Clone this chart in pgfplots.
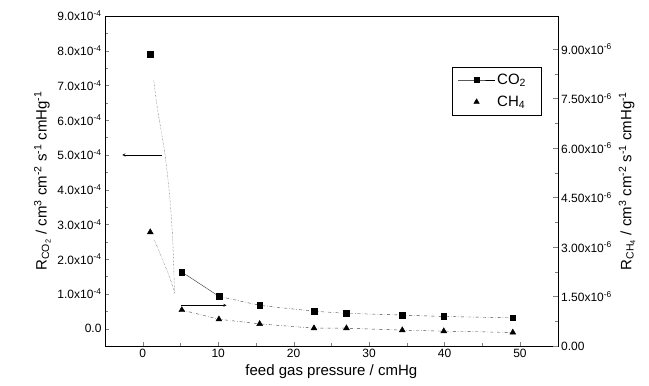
\documentclass[border=0pt]{standalone}
\usepackage{fontspec}
\setmainfont{Liberation Sans}
\usepackage{pgfplots}
\pgfplotsset{compat=1.18}

\begin{document}
\begin{tikzpicture}
\begin{axis}[name=main, scale only axis, width=452.7bp, height=330bp,
  xmin=-5, xmax=55, ymin=-0.5e-4, ymax=9e-4,
  xtick={0,10,20,30,40,50}, xticklabels={0,10,20,30,40,50}, minor x tick num=1,
  ytick={0,1e-4,2e-4,3e-4,4e-4,5e-4,6e-4,7e-4,8e-4,9e-4},
  yticklabels={0.0,1.0x10\textsuperscript{-4},2.0x10\textsuperscript{-4},3.0x10\textsuperscript{-4},4.0x10\textsuperscript{-4},5.0x10\textsuperscript{-4},6.0x10\textsuperscript{-4},7.0x10\textsuperscript{-4},8.0x10\textsuperscript{-4},9.0x10\textsuperscript{-4}},
  minor y tick num=1,
  xtick pos=bottom, ytick pos=left, tick align=inside,
  scaled y ticks=false,
  tick label style={font=\fontsize{12bp}{14bp}\selectfont},
  label style={font=\fontsize{15bp}{18bp}\selectfont},
  xlabel={feed gas pressure / cmHg},
  ylabel={R\textsubscript{CO\textsubscript{2}} / cm\textsuperscript{3} cm\textsuperscript{-2} s\textsuperscript{-1} cmHg\textsuperscript{-1}},
  legend style={at={(0.766,0.846)}, anchor=north west, draw=black, thin,
    font=\fontsize{15bp}{18bp}\selectfont, cells={anchor=west}, row sep=6bp,
    inner xsep=6bp, inner ysep=5bp},
  legend image code/.code={\draw[mark repeat=2,mark phase=2,#1] plot coordinates {(0cm,0cm) (0.65cm,0cm) (1.3cm,0cm)};},
]
% CO2 fitted/dotted part
\addplot[black!75, densely dotted, smooth, forget plot] coordinates {(1.46,7.16e-4) (1.98,6.29e-4) (2.87,5.14e-4) (3.54,3.89e-4) (3.98,2.54e-4) (4.21,1.01e-4)};
\addplot[black!80, thin, forget plot] coordinates {(5.18,1.63e-4) (10.1,0.93e-4)};
\addplot[black!75, thin, dash dot, forget plot] coordinates {(10.1,0.93e-4) (15.5,0.67e-4) (22.7,0.50e-4) (27.0,0.44e-4) (34.4,0.39e-4) (39.9,0.35e-4) (49.05,0.31e-4)};
\addplot[only marks, mark=square*, mark size=2.8bp, black, forget plot] coordinates {(1.0,7.9e-4) (5.18,1.63e-4) (10.1,0.93e-4) (15.5,0.67e-4) (22.7,0.50e-4) (27.0,0.44e-4) (34.4,0.39e-4) (39.9,0.35e-4) (49.05,0.31e-4)};
\addlegendimage{black, thin, mark=square*, mark size=2.5bp, mark options={solid}}
\addlegendentry{CO\textsubscript{2}\hspace*{7bp}}
\addlegendimage{only marks, mark=triangle*, mark size=3.2bp, black}
\addlegendentry{CH\textsubscript{4}\hspace*{7bp}}
\draw[->, >=stealth, thin] (axis cs:2.6,5.0e-4) -- (axis cs:-2.7,5.0e-4);
\draw[->, >=stealth, thin] (axis cs:5.1,0.67e-4) -- (axis cs:11.1,0.67e-4);
\end{axis}
\begin{axis}[scale only axis, width=452.7bp, height=330bp,
  xmin=-5, xmax=55, ymin=0, ymax=1e-5,
  axis y line*=right, axis x line=none,
  ytick={0,1.5e-6,3e-6,4.5e-6,6e-6,7.5e-6,9e-6},
  yticklabels={0.00,1.50x10\textsuperscript{-6},3.00x10\textsuperscript{-6},4.50x10\textsuperscript{-6},6.00x10\textsuperscript{-6},7.50x10\textsuperscript{-6},9.00x10\textsuperscript{-6}},
  minor y tick num=1, tick align=inside, scaled y ticks=false,
  tick label style={font=\fontsize{12bp}{14bp}\selectfont},
  label style={font=\fontsize{15bp}{18bp}\selectfont},
  ylabel={R\textsubscript{CH\textsubscript{4}} / cm\textsuperscript{3} cm\textsuperscript{-2} s\textsuperscript{-1} cmHg\textsuperscript{-1}},
]
\addplot[black!75, densely dotted, smooth] coordinates {(1.55,3.21e-6) (3.54,2.10e-6) (4.21,1.60e-6)};
\addplot[black!75, thin, dash dot] coordinates {(5.18,1.09e-6) (10.1,0.81e-6) (15.5,0.67e-6) (22.7,0.54e-6) (27.0,0.54e-6) (34.4,0.48e-6) (39.9,0.45e-6) (49.05,0.41e-6)};
\addplot[only marks, mark=triangle*, mark size=3.4bp, black] coordinates {(1.0,3.45e-6) (5.18,1.09e-6) (10.1,0.81e-6) (15.5,0.67e-6) (22.7,0.54e-6) (27.0,0.54e-6) (34.4,0.48e-6) (39.9,0.45e-6) (49.05,0.41e-6)};
\end{axis}
\pgfresetboundingbox
\path ([shift={(-105bp,-40bp)}]main.south west) rectangle ([shift={(91.3bp,16bp)}]main.north east);
\end{tikzpicture}
\end{document}
